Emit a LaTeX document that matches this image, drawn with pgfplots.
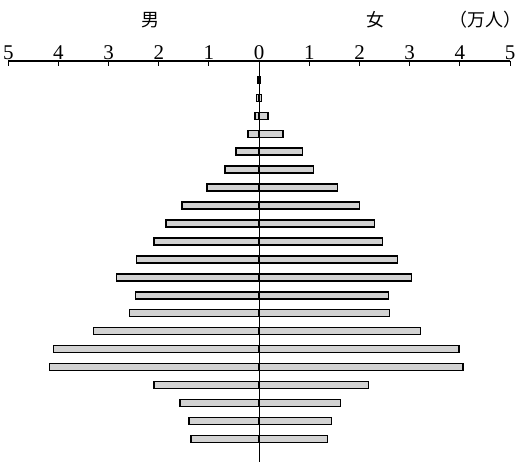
\documentclass[border=0pt]{standalone}
\usepackage{fontspec}
\usepackage{pgfplots}
\usepackage{pgfplotstable}
\pgfplotsset{compat=1.18}
\newfontfamily\cjk{Noto Sans CJK JP}
\newfontfamily\digits{Liberation Serif}
\newcommand{\tl}[1]{\hbox{\digits\fontsize{21}{23}\selectfont #1}}

% population by age group, 10^4 persons (top row = oldest)
\pgfplotstableread{
row male female
1  0.02 0.02
2  0.05 0.05
3  0.08 0.18
4  0.22 0.48
5  0.46 0.86
6  0.68 1.08
7  1.04 1.56
8  1.54 2.00
9  1.86 2.30
10 2.10 2.46
11 2.44 2.76
12 2.84 3.04
13 2.46 2.58
14 2.58 2.60
15 3.30 3.22
16 4.10 3.98
17 4.18 4.06
18 2.10 2.18
19 1.58 1.62
20 1.40 1.44
21 1.36 1.36
}\pyramid

\begin{document}
\begin{tikzpicture}
\begin{axis}[
    scale only axis,
    width=502pt, height=401pt,
    xmin=-5, xmax=5,
    ymin=-0.06, ymax=22.28,
    y dir=reverse,
    axis x line=top,
    axis y line=none,
    axis line style={line width=1.3pt, -},
    xtick={-5,-4,...,5},
    xticklabels={\tl{5},\tl{4},\tl{3},\tl{2},\tl{1},\tl{0},\tl{1},\tl{2},\tl{3},\tl{4},\tl{5}},
    tick align=inside,
    major tick length=5pt,
    tick style={line width=1pt, black},
    xticklabel style={inner sep=1pt},
    xbar, bar width=7pt, bar shift=0pt,
    clip=false,
]
\addplot[draw=black, line width=1.5pt, fill=gray!35]
    table[x expr=-\thisrow{male}, y=row] {\pyramid};
\addplot[draw=black, line width=1.5pt, fill=gray!35]
    table[x=female, y=row] {\pyramid};
\draw[line width=1.3pt] (axis cs:0,-0.06) -- (axis cs:0,22.28);
\node[font=\cjk\fontsize{18}{20}\selectfont] at (axis cs:-2.17,-2.34) {男};
\node[font=\cjk\fontsize{18}{20}\selectfont] at (axis cs:2.32,-2.34) {女};
\node[font=\cjk\fontsize{18}{20}\selectfont] at (axis cs:4.52,-2.34) {（万人）};
\end{axis}
\pgfresetboundingbox
\path ([shift={(-8.3pt,-4pt)}]current axis.south west)
    rectangle ([shift={(11pt,61pt)}]current axis.north east);
\end{tikzpicture}
\end{document}
